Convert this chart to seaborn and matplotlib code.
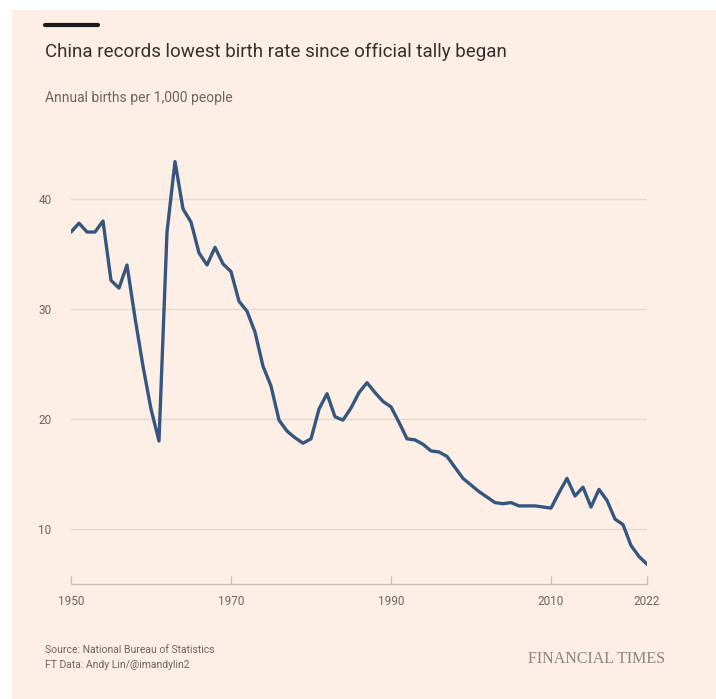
import matplotlib
matplotlib.use("Agg")
import matplotlib.pyplot as plt
import matplotlib.patches as mpatches
import pandas as pd
import seaborn as sns

# Crude birth rate, China (births per 1,000 people)
years = list(range(1950, 2023))
births = [
    37.0, 37.8, 37.0, 37.0, 38.0, 32.6, 31.9, 34.0, 29.2, 24.8,   # 1950-59
    20.9, 18.0, 37.0, 43.4, 39.1, 37.9, 35.1, 34.0, 35.6, 34.1,   # 1960-69
    33.4, 30.7, 29.8, 27.9, 24.8, 23.0, 19.9, 18.9, 18.3, 17.8,   # 1970-79
    18.2, 20.9, 22.3, 20.2, 19.9, 21.0, 22.4, 23.3, 22.4, 21.6,   # 1980-89
    21.1, 19.7, 18.2, 18.1, 17.7, 17.1, 17.0, 16.6, 15.6, 14.6,   # 1990-99
    14.0, 13.4, 12.9, 12.4, 12.3, 12.4, 12.1, 12.1, 12.1, 12.0,   # 2000-09
    11.9, 13.3, 14.6, 13.0, 13.8, 12.0, 13.6, 12.6, 10.9, 10.4,   # 2010-19
    8.5, 7.5, 6.8,                                                 # 2020-22
]
xticks = [1950, 1970, 1990, 2010, 2022]
yticks = [10, 20, 30, 40]

df = pd.DataFrame({"year": years, "rate": births})

BG = "#fdefe5"
LINE = "#35577f"
GREY = "#6b6560"

sns.set_theme(style="white")
plt.rcParams["font.family"] = ["Roboto", "DejaVu Sans"]

fig = plt.figure(figsize=(7.16, 6.99), dpi=100, facecolor="white")
# pink panel (the screenshot has a thin white margin at left/top)
fig.patches.append(mpatches.Rectangle((12 / 716, 0), 1, 1 - 10 / 699,
                                      transform=fig.transFigure,
                                      facecolor=BG, edgecolor="none", zorder=-10))

ax = fig.add_axes([71 / 716, 1 - 584 / 699, 576 / 716, 440 / 699])
ax.set_facecolor("none")

sns.lineplot(data=df, x="year", y="rate", ax=ax, color=LINE, linewidth=2.4,
             solid_joinstyle="round", solid_capstyle="round", zorder=3)

ax.set_xlim(1950, 2022)
ax.set_ylim(5, 45)
ax.set_xticks(xticks)
ax.set_yticks(yticks)
ax.set_xlabel("")
ax.set_ylabel("")

ax.grid(axis="y", color="#e3d9cf", linewidth=1)
for s in ["top", "right", "left"]:
    ax.spines[s].set_visible(False)
ax.spines["bottom"].set_color("#c9bfb6")
ax.spines["bottom"].set_linewidth(1)

ax.tick_params(axis="x", direction="in", length=6, width=1, color="#c9bfb6",
               labelsize=8.5, labelcolor=GREY, pad=8, bottom=True)
ax.tick_params(axis="y", length=0, labelsize=8.5, labelcolor=GREY, pad=14)

# header
fig.lines.append(plt.Line2D([45 / 716, 98 / 716], [1 - 25 / 699] * 2,
                            transform=fig.transFigure, color="#1a1a1a", linewidth=3))
fig.text(45 / 716, 1 - 52 / 699, "China records lowest birth rate since official tally began",
         fontsize=13.5, color="#33302e", va="center", ha="left")
fig.text(45 / 716, 1 - 98 / 699, "Annual births per 1,000 people",
         fontsize=10, color=GREY, va="center", ha="left")

# footer
fig.text(45 / 716, 1 - 650 / 699, "Source: National Bureau of Statistics",
         fontsize=7.5, color=GREY, va="center", ha="left")
fig.text(45 / 716, 1 - 665 / 699, "FT Data: Andy Lin/@imandylin2",
         fontsize=7.5, color=GREY, va="center", ha="left")
fig.text(665 / 716, 1 - 659 / 699, "FINANCIAL TIMES",
         fontsize=11.5, color="#8a8581", va="center", ha="right",
         family=["Liberation Serif", "DejaVu Serif"])

fig.savefig("out.png", dpi=100, facecolor=fig.get_facecolor())
